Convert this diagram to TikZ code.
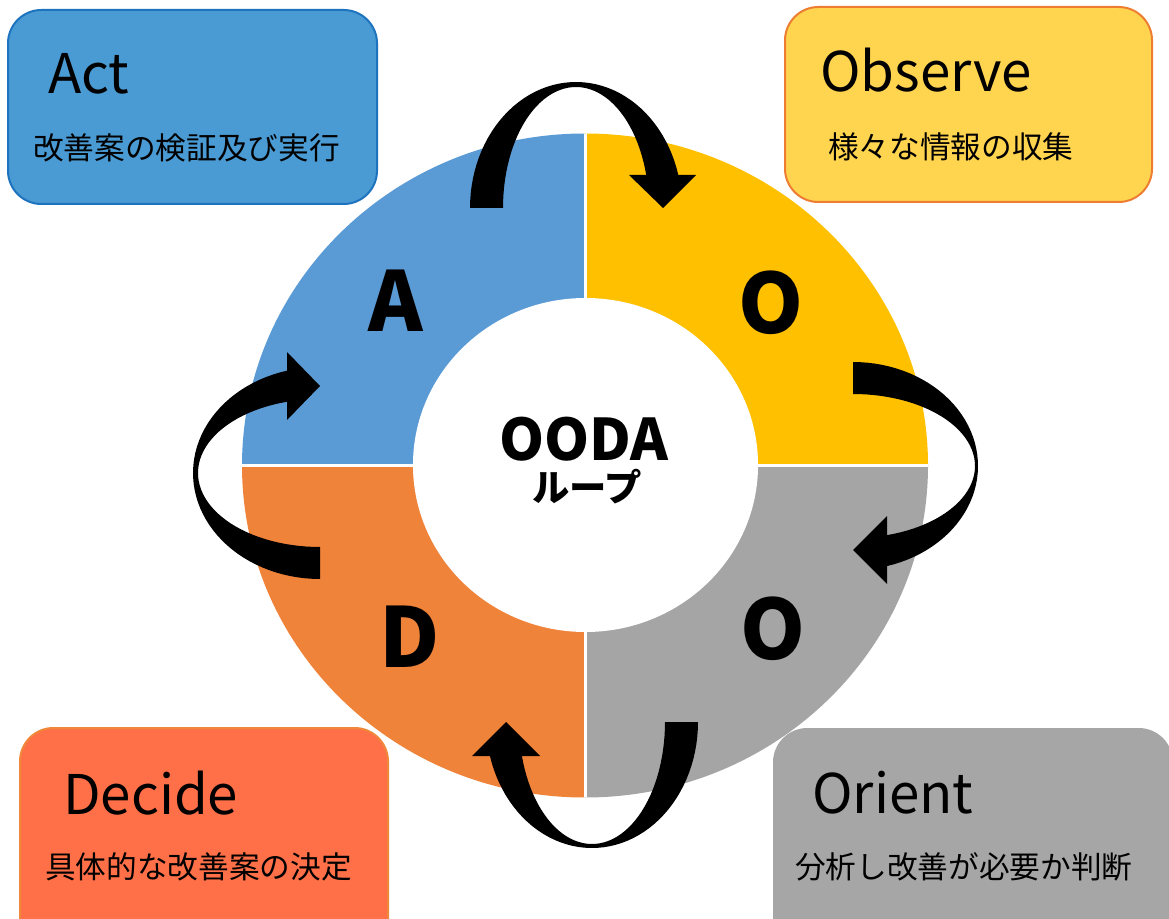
\documentclass[tikz,border=0pt]{standalone}
\usepackage{fontspec}
\setmainfont{Noto Sans CJK JP}
\definecolor{qblue}{HTML}{5B9BD5}
\definecolor{qyellow}{HTML}{FFC000}
\definecolor{qgray}{HTML}{A5A5A5}
\definecolor{qorange}{HTML}{F0833A}
\definecolor{actfill}{HTML}{4A9AD3}
\definecolor{actline}{HTML}{1E73BE}
\definecolor{obsfill}{HTML}{FFD44F}
\definecolor{obsline}{HTML}{ED7D31}
\definecolor{decfill}{HTML}{FF7049}
\definecolor{decline}{HTML}{F0883A}
\definecolor{orifill}{HTML}{A6A6A6}
\tikzset{
  infobox/.style={rounded corners=25pt, line width=1.5pt},
  headtxt/.style={anchor=base west, inner sep=0pt, font=\fontsize{41}{41}\selectfont},
  subtxt/.style={anchor=west, inner sep=0pt, font=\fontsize{23}{23}\selectfont},
  bigletter/.style={anchor=base, inner sep=0pt, font=\bfseries\fontsize{62}{62}\selectfont},
  blk/.style={fill=black}
}
\begin{document}
\begin{tikzpicture}[x=0.75pt,y=-0.75pt]
\useasboundingbox (0,0) rectangle (1169,919);
\clip (0,0) rectangle (1169,919);
% ring quadrants
\begin{scope}
\clip (585,465.5) ellipse [x radius=257.25pt, y radius=249pt];
\fill[qblue] (200,465) rectangle (585,100);
\fill[qyellow] (585,465) rectangle (960,100);
\fill[qorange] (200,465) rectangle (585,820);
\fill[qgray] (585,465) rectangle (960,820);
\draw[white, line width=2.25pt] (585,100) -- (585,820);
\draw[white, line width=2.25pt] (200,465) -- (960,465);
\end{scope}
\fill[white] (585.5,465) ellipse [x radius=129.4pt, y radius=125.25pt];
% letters
\node[bigletter] (la) at (396,332) {A};
\node[bigletter] (lo1) at (771,334) {O};
\node[bigletter] (ld) at (410,667) {D};
\node[bigletter] (lo2) at (773,659) {O};
\node[anchor=base, inner sep=0pt, font=\bfseries\fontsize{43}{43}\selectfont] (ooda) at (584,460) {OODA};
\node[anchor=base, inner sep=0pt, font=\bfseries\fontsize{28}{28}\selectfont] (loop) at (587,501) {ループ};
% boxes
\draw[infobox, fill=actfill, draw=actline] (8,10) rectangle (377,204);
\draw[infobox, fill=obsfill, draw=obsline] (785,7) rectangle (1152,202);
\draw[infobox, fill=decfill, draw=decline] (20,728) rectangle (388,960);
\draw[infobox, fill=orifill, draw=orifill] (774,729) rectangle (1172,960);
\node[headtxt] (act) at (48,94) {Act};
\node[subtxt] (actj) at (33,148) {改善案の検証及び実行};
\node[headtxt] (obs) at (820,92) {Observe};
\node[subtxt] (obsj) at (828,147) {様々な情報の収集};
\node[headtxt] (dec) at (63,814) {Decide};
\node[subtxt] (decj) at (45,867) {具体的な改善案の決定};
\node[headtxt] (ori) at (812,813) {Orient};
\node[subtxt] (orij) at (795,867) {分析し改善が必要か判断};
% arrows
% top: Act -> Observe
\fill[blk] (470,208)
  -- plot[domain=180:344.8, samples=50] ({576+106*cos(\x)},{208+126*sin(\x)})
  -- (696,175) -- (663,208) -- (629,175) -- (646,175)
  -- plot[domain=344.2:180, samples=50] ({576+73*cos(\x)},{208+121*sin(\x)})
  -- cycle;
% right: Observe -> Orient
\fill[blk] (853,362)
  -- plot[domain=-90:74.2, samples=50] ({853+125*cos(\x)},{466+104*sin(\x)})
  -- (887,584) -- (853,550) -- (887,516) -- (887,535)
  -- plot[domain=73.8:-90, samples=50] ({853+122*cos(\x)},{466+72*sin(\x)})
  -- cycle;
% bottom: Orient -> Decide
\fill[blk] (698,722)
  -- plot[domain=0:164.34, samples=50] ({592+106*cos(\x)},{722+126*sin(\x)})
  -- (472,756) -- (506,722) -- (540,756) -- (522,756)
  -- plot[domain=163.82:0, samples=50] ({592+73*cos(\x)},{722+122*sin(\x)})
  -- cycle;
% left: Decide -> Act
\fill[blk] (320,579)
  -- plot[domain=90:254.94, samples=50] ({320+127*cos(\x)},{473+106*sin(\x)})
  -- (287,352) -- (320,386) -- (287,420) -- (287,402)
  -- plot[domain=254.3:90, samples=50] ({320+122*cos(\x)},{473+74*sin(\x)})
  -- cycle;
\end{tikzpicture}
\end{document}
